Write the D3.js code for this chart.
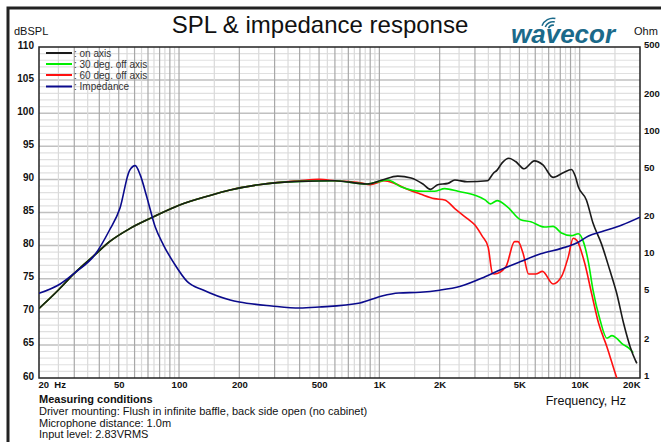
<!DOCTYPE html>
<html>
<head>
<meta charset="utf-8">
<script src="https://cdn.jsdelivr.net/npm/d3@7"></script>
<style>
  body { margin: 0; background: #fff; }
  svg { display: block; font-family: "Liberation Sans", Arial, sans-serif; }
</style>
</head>
<body>
<div id="canvas"></div>
<script>
// data: [frequency Hz, dB] or [frequency Hz, ohm]
const onAxis = [[20,70.5],[25,73.3],[30,75.8],[38,78.6],[45,80.6],[57,82.6],[74,84.3],[100,86.1],[140,87.5],[180,88.4],[250,89.2],[400,89.7],[600,89.8],[870,89.3],[1030,89.9],[1235,90.5],[1440,90.2],[1650,89.3],[1800,88.5],[1955,89.2],[2200,89.4],[2380,89.9],[2740,89.65],[3460,89.8],[3700,90.9],[3870,91.4],[4100,92.5],[4430,93.2],[4790,92.7],[5280,91.6],[5940,92.8],[6550,92.2],[7360,90.3],[8270,91.0],[9100,91.5],[9500,90.5],[9840,88.9],[10800,86.9],[11650,83.4],[12830,80.3],[14130,76.3],[15300,72.8],[16550,68.3],[17870,64.7],[18950,62.7],[19300,62.2]];
const offAxis30 = [[20,70.5],[25,73.3],[30,75.8],[38,78.6],[45,80.6],[57,82.6],[74,84.3],[100,86.1],[140,87.5],[180,88.4],[250,89.2],[400,89.7],[600,89.8],[870,89.3],[1000,89.7],[1100,89.9],[1280,88.9],[1660,88.2],[1880,88.2],[2120,88.6],[2470,88.2],[3000,87.6],[3370,86.9],[3580,86.3],[3870,86.8],[4340,85.9],[5070,83.9],[5700,83.6],[6680,82.8],[7360,82.9],[8110,81.9],[9100,81.5],[9840,81.8],[10430,80.6],[11070,77.4],[11650,73.3],[12630,68.8],[13680,66.0],[14500,66.4],[15300,66.0],[16250,65.2],[17600,64.5],[18500,63.8]];
const offAxis60 = [[20,70.5],[25,73.3],[30,75.8],[38,78.6],[45,80.6],[57,82.6],[74,84.3],[100,86.1],[140,87.5],[180,88.4],[250,89.2],[400,89.8],[500,90.0],[600,89.8],[800,89.5],[900,89.2],[1000,89.6],[1050,89.8],[1190,89.4],[1380,88.5],[1600,87.8],[1880,87.1],[2120,86.9],[2380,85.6],[2740,84.1],[3000,83.1],[3250,81.5],[3490,79.8],[3670,75.8],[3750,75.7],[4280,76.8],[4730,80.6],[4920,80.6],[5220,78.8],[5560,75.7],[6030,75.7],[6520,76.1],[7360,74.2],[8110,75.3],[8770,78.3],[9280,81.1],[9660,80.8],[10580,77.4],[11460,72.8],[12420,68.3],[13680,64.7],[15050,60.7],[15500,59.5]];
const impedance = [[20,4.9],[25.5,5.84],[30,7.14],[38,10.1],[45,16.1],[50.7,24.2],[56.6,49.1],[60.5,53.9],[64,45.3],[69,30.1],[76,17.1],[83.5,12.2],[94.5,8.6],[110,6.1],[132,5.22],[180,4.33],[200,4.17],[290,3.87],[400,3.72],[500,3.79],[800,4.09],[1030,4.66],[1250,4.93],[1600,5.0],[2000,5.2],[2540,5.6],[3370,6.7],[4000,7.6],[5070,8.9],[6390,10.3],[8100,11.4],[9660,12.6],[11070,14.4],[12830,15.6],[16250,17.7],[20000,20.5]];

const freqTicks = [20, 50, 100, 200, 500, 1000, 2000, 5000, 10000, 20000];
const freqLabels = ["20  Hz", "50", "100", "200", "500", "1K", "2K", "5K", "10K", "20K"];
const dbTicks = [60, 65, 70, 75, 80, 85, 90, 95, 100, 105, 110];
const ohmTicks = [1, 2, 5, 10, 20, 50, 100, 200, 500];

const series = [
  { name: ": on axis", data: onAxis, color: "#1a1a1a", axis: "db" },
  { name: ": 30 deg. off axis", data: offAxis30, color: "#00ee00", axis: "db" },
  { name: ": 60 deg. off axis", data: offAxis60, color: "#ff1010", axis: "db" },
  { name: ": Impedance", data: impedance, color: "#0a0a8c", axis: "ohm" }
];

const notes = [
  "Driver mounting: Flush in infinite baffle, back side open (no cabinet)",
  "Microphone distance: 1.0m",
  "Input level: 2.83VRMS"
];

const W = 661, H = 442;
const plot = { left: 39, right: 640, top: 47, bottom: 378 };

const svg = d3.select("#canvas").append("svg")
  .attr("width", W).attr("height", H);

// outer frame (only top and left edge are inside the picture)
svg.append("rect")
  .attr("x", 8).attr("y", 8).attr("width", 700).attr("height", 500)
  .attr("fill", "none").attr("stroke", "#222").attr("stroke-width", 3);

const x = d3.scaleLog().domain([20, 20000]).range([plot.left, plot.right]);
const y = d3.scaleLinear().domain([60, 110]).range([plot.bottom, plot.top]);
const yz = d3.scaleLog().domain([1, 500]).range([plot.bottom, plot.top]);

// grid
const grid = svg.append("g");
const dbs = d3.range(61, 110);
grid.selectAll(".hg").data(dbs).join("line")
  .attr("x1", plot.left).attr("x2", plot.right)
  .attr("y1", d => y(d)).attr("y2", d => y(d))
  .attr("stroke", d => d % 5 === 0 ? "#c0c0c0" : "#e0e0e0")
  .attr("stroke-width", d => d % 5 === 0 ? 1.5 : 1.2);

const vf = [];
[10, 100, 1000, 10000].forEach(dec => {
  d3.range(1, 10, 0.5).forEach(m => {
    const f = m * dec;
    if (f > 20 && f < 20000) vf.push({ f, major: Number.isInteger(m) });
  });
});
grid.selectAll(".vg").data(vf).join("line")
  .attr("x1", d => x(d.f)).attr("x2", d => x(d.f))
  .attr("y1", plot.top).attr("y2", plot.bottom)
  .attr("stroke", d => d.major ? "#a8a8a8" : "#dadada")
  .attr("stroke-width", 1.2);

// plot frame
svg.append("rect")
  .attr("x", plot.left).attr("y", plot.top)
  .attr("width", plot.right - plot.left).attr("height", plot.bottom - plot.top)
  .attr("fill", "none").attr("stroke", "#222").attr("stroke-width", 1.5);

// axes
const ax = svg.append("g").attr("transform", `translate(0,${plot.bottom})`)
  .call(d3.axisBottom(x).tickValues(freqTicks).tickSize(0).tickPadding(3)
    .tickFormat((d, i) => freqLabels[i]));
ax.select(".domain").remove();
ax.selectAll("text").attr("font-size", 9.5).attr("font-weight", "bold")
  .attr("fill", "#111").style("white-space", "pre")
  .attr("text-anchor", (d, i) => i === 0 ? "start" : (i === freqTicks.length - 1 ? "end" : "middle"))
  .attr("dx", (d, i) => i === 0 ? -1 : 0);

const ay = svg.append("g").attr("transform", `translate(${plot.left},0)`)
  .call(d3.axisLeft(y).tickValues(dbTicks).tickSize(0).tickPadding(5));
ay.select(".domain").remove();
ay.selectAll("text").attr("font-size", 10).attr("font-weight", "bold").attr("fill", "#111")
  .attr("dy", "0.1em");

const az = svg.append("g").attr("transform", `translate(${plot.right},0)`)
  .call(d3.axisRight(yz).tickValues(ohmTicks).tickSize(0).tickPadding(4).tickFormat(d3.format("d")));
az.select(".domain").remove();
az.selectAll("text").attr("font-size", 9.5).attr("font-weight", "bold").attr("fill", "#111")
  .attr("dy", "0.05em");

// curves
svg.append("clipPath").attr("id", "plotclip").append("rect")
  .attr("x", plot.left).attr("y", plot.top)
  .attr("width", plot.right - plot.left).attr("height", plot.bottom - plot.top);

const curves = svg.append("g").attr("clip-path", "url(#plotclip)");
[series[2], series[1], series[0], series[3]].forEach(s => {
  const yy = s.axis === "ohm" ? yz : y;
  curves.append("path")
    .datum(s.data)
    .attr("fill", "none")
    .attr("stroke", s.color)
    .attr("stroke-width", 1.6)
    .attr("d", d3.line()
      .curve(d3.curveMonotoneX)
      .x(d => x(d[0]))
      .y(d => yy(d[1])));
});

// legend
const lg = svg.append("g");
series.forEach((s, i) => {
  const ly = [53, 64, 75, 86.5][i];
  lg.append("line").attr("x1", 46).attr("x2", 72).attr("y1", ly).attr("y2", ly)
    .attr("stroke", s.color).attr("stroke-width", 2);
  lg.append("text").attr("x", 74).attr("y", ly + 3.5).text(s.name)
    .attr("font-size", 10).attr("fill", "#333");
});

// titles and labels
svg.append("text").attr("x", 320).attr("y", 33).attr("text-anchor", "middle")
  .attr("font-size", 24).attr("fill", "#111").text("SPL & impedance response");
svg.append("text").attr("x", 14).attr("y", 35).attr("font-size", 11).attr("fill", "#111").text("dBSPL");
svg.append("text").attr("x", 634).attr("y", 35).attr("font-size", 11).attr("fill", "#111").text("Ohm");
svg.append("text").attr("x", 626).attr("y", 405).attr("text-anchor", "end")
  .attr("font-size", 12.5).attr("fill", "#111").text("Frequency, Hz");

// logo
const logo = svg.append("g");
logo.append("text").attr("x", 511).attr("y", 43)
  .attr("font-size", 26).attr("font-style", "italic").attr("font-weight", "bold")
  .attr("fill", "#1b6a8a").text("wavecor");
[4, 7.5, 11].forEach(r => {
  logo.append("path")
    .attr("d", d3.arc()({ innerRadius: r, outerRadius: r + 1.6, startAngle: 0.2, endAngle: 1.6 }))
    .attr("transform", "translate(553,30) rotate(-80)")
    .attr("fill", "#1b6a8a");
});

// measuring conditions
svg.append("text").attr("x", 39).attr("y", 403).attr("font-size", 11).attr("font-weight", "bold")
  .attr("fill", "#111").text("Measuring conditions");
notes.forEach((t, i) => {
  svg.append("text").attr("x", 39).attr("y", 415 + i * 11.7).attr("font-size", 11)
    .attr("fill", "#111").text(t);
});
</script>
</body>
</html>
